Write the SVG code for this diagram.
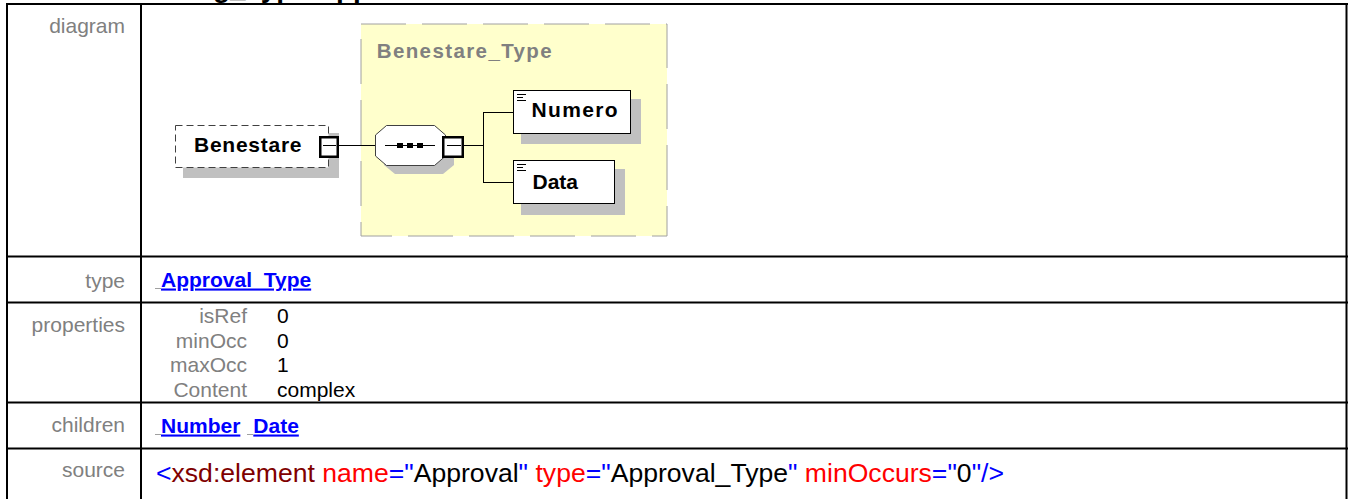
<svg xmlns="http://www.w3.org/2000/svg" width="1348" height="499" viewBox="0 0 1348 499">
<style>
.lbl{font-family:"Liberation Sans",Arial,sans-serif;font-size:21px;fill:#808080;text-anchor:end}
.val{font-family:"Liberation Sans",Arial,sans-serif;font-size:21px;fill:#000}
.lnk{font-family:"Liberation Sans",Arial,sans-serif;font-size:21px;font-weight:bold;fill:#0000ff;text-decoration:underline}
.node{font-family:"Liberation Sans",Arial,sans-serif;font-size:21px;font-weight:bold;fill:#000}
.shadow{fill:#c0c0c0}
.box{fill:#fff;stroke:#000;stroke-width:1}
.pm{fill:#fff;stroke:#000;stroke-width:2.5}
.conn{stroke:#000;stroke-width:1;fill:none}
.grid{stroke:#000;stroke-width:2}
.mark{stroke:#a0a0a0;stroke-width:1}
</style>

<rect x="0" y="0" width="1348" height="499" fill="#fff"/>

<!-- clipped header -->
<text x="213" y="-3" font-family="Liberation Sans, Arial, sans-serif" font-size="28" font-weight="bold" fill="#000">g_Type Approval</text>

<!-- table grid -->
<g id="table">
<line class="grid" x1="6" y1="4" x2="1348" y2="4"/>
<line class="grid" x1="7" y1="3" x2="7" y2="499"/>
<line class="grid" x1="141" y1="3" x2="141" y2="499"/>
<line class="grid" x1="1346.5" y1="3" x2="1346.5" y2="499"/>
<line class="grid" x1="6" y1="256.5" x2="1348" y2="256.5"/>
<line class="grid" x1="6" y1="302.5" x2="1348" y2="302.5"/>
<line class="grid" x1="6" y1="402.5" x2="1348" y2="402.5"/>
<line class="grid" x1="6" y1="448.5" x2="1348" y2="448.5"/>
</g>

<g id="row-labels">
<text class="lbl" x="125" y="33">diagram</text>
<text class="lbl" x="125" y="288">type</text>
<text class="lbl" x="125" y="332">properties</text>
<text class="lbl" x="125" y="432">children</text>
<text class="lbl" x="125" y="477">source</text>
</g>

<!-- type container -->
<g id="node-benestare-type">
<rect x="361" y="24" width="306" height="212" fill="#ffffcc" stroke="#a0a0a0" stroke-width="1" stroke-dasharray="45 16"/>
<text x="376.7" y="58.3" font-family="Liberation Sans, Arial, sans-serif" font-size="20.5" font-weight="bold" fill="#808080" textLength="175" lengthAdjust="spacing">Benestare_Type</text>
</g>

<!-- connectors -->
<g id="connectors">
<line class="conn" x1="339" y1="145.5" x2="375" y2="145.5"/>
<line class="conn" x1="464" y1="145.5" x2="483.5" y2="145.5"/>
<line class="conn" x1="483.5" y1="112" x2="483.5" y2="182"/>
<line class="conn" x1="483" y1="112.5" x2="513" y2="112.5"/>
<line class="conn" x1="483" y1="182.5" x2="513" y2="182.5"/>
</g>

<!-- Benestare element -->
<g id="node-benestare">
<rect class="shadow" x="183" y="133" width="156" height="45"/>
<rect x="175.5" y="125.5" width="153" height="42" fill="#fff" stroke="#404040" stroke-width="1" stroke-dasharray="7 4"/>
<text class="node" x="194" y="152" textLength="107.5" lengthAdjust="spacing">Benestare</text>
<rect class="pm" x="320.25" y="137.25" width="17.5" height="19.5"/>
<line class="conn" x1="323" y1="145.5" x2="336" y2="145.5"/>
</g>

<!-- sequence compositor -->
<g id="node-sequence">
<polygon class="shadow" points="395,134 443,134 454,144 454,165 443,174 395,174 384,165 384,144"/>
<polygon points="386.5,125.5 434.5,125.5 445.5,135 445.5,156 434.5,165.5 386.5,165.5 375.5,156 375.5,135" fill="#fff" stroke="#404040" stroke-width="1"/>
<line class="conn" x1="385" y1="145.5" x2="435" y2="145.5"/>
<rect x="397" y="143" width="6" height="5" fill="#000"/>
<rect x="407" y="143" width="6" height="5" fill="#000"/>
<rect x="417" y="143" width="6" height="5" fill="#000"/>
<rect class="pm" x="443.25" y="137.25" width="19.5" height="19.5"/>
<line class="conn" x1="447" y1="145.5" x2="461" y2="145.5"/>
</g>

<!-- Numero -->
<g id="node-numero">
<rect class="shadow" x="521" y="99" width="120" height="45"/>
<rect class="box" x="513.5" y="90.5" width="117" height="43"/>
<line class="conn" x1="517" y1="94.5" x2="526" y2="94.5"/>
<line class="conn" x1="517" y1="97.5" x2="523" y2="97.5"/>
<line class="conn" x1="517" y1="100.5" x2="526" y2="100.5"/>
<text class="node" x="531.5" y="117" textLength="86" lengthAdjust="spacing">Numero</text>
</g>

<!-- Data -->
<g id="node-data">
<rect class="shadow" x="521" y="169" width="104" height="46"/>
<rect class="box" x="513.5" y="160.5" width="101" height="43"/>
<line class="conn" x1="517" y1="164.5" x2="526" y2="164.5"/>
<line class="conn" x1="517" y1="167.5" x2="523" y2="167.5"/>
<line class="conn" x1="517" y1="170.5" x2="526" y2="170.5"/>
<text class="node" x="532.5" y="188.5">Data</text>
</g>

<!-- type row -->
<g id="type-row">
<line class="mark" x1="155" y1="288.5" x2="161" y2="288.5"/>
<text class="lnk" x="161" y="286.5">Approval_Type</text>
</g>

<!-- properties row -->
<g id="properties-row">
<text class="lbl" x="247" y="323">isRef</text>
<text class="val" x="277" y="323">0</text>
<text class="lbl" x="247" y="347.5">minOcc</text>
<text class="val" x="277" y="347.5">0</text>
<text class="lbl" x="247" y="372">maxOcc</text>
<text class="val" x="277" y="372">1</text>
<text class="lbl" x="247" y="396.5">Content</text>
<text class="val" x="277" y="396.5">complex</text>
</g>

<!-- children row -->
<g id="children-row">
<line class="mark" x1="155" y1="434.5" x2="161" y2="434.5"/>
<text class="lnk" x="161" y="432.5">Number</text>
<line class="mark" x1="247" y1="434.5" x2="253" y2="434.5"/>
<text class="lnk" x="253.3" y="432.5">Date</text>
</g>

<!-- source row -->
<g id="source-row">
<text x="156" y="482" font-family="Liberation Sans, Arial, sans-serif" font-size="26.5" textLength="848" lengthAdjust="spacingAndGlyphs"><tspan fill="#0000ff">&lt;</tspan><tspan fill="#800000">xsd:element</tspan><tspan fill="#ff0000"> name</tspan><tspan fill="#0000ff">="</tspan><tspan fill="#000">Approval</tspan><tspan fill="#0000ff">"</tspan><tspan fill="#ff0000"> type</tspan><tspan fill="#0000ff">="</tspan><tspan fill="#000">Approval_Type</tspan><tspan fill="#0000ff">"</tspan><tspan fill="#ff0000"> minOccurs</tspan><tspan fill="#0000ff">="</tspan><tspan fill="#000">0</tspan><tspan fill="#0000ff">"/&gt;</tspan></text>
</g>
</svg>
